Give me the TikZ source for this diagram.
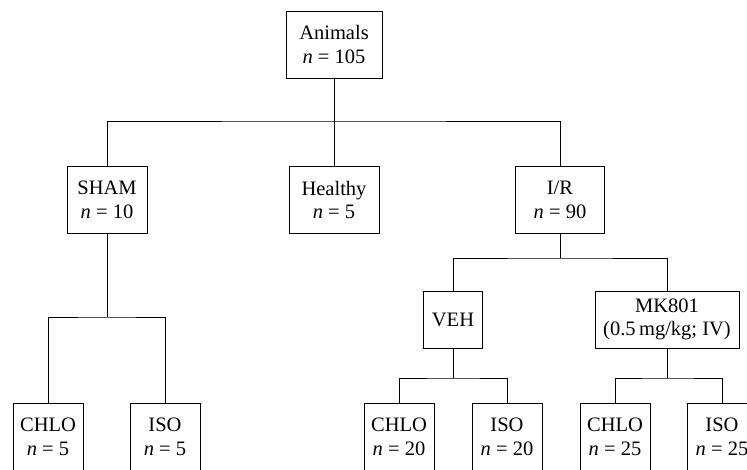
\documentclass[tikz,border=0pt]{standalone}
\usepackage{fontspec}
\setmainfont{Liberation Serif}
\begin{document}
\begin{tikzpicture}[x=1pt,y=-1pt,
  box/.style={draw, line width=1pt, inner sep=0pt, align=center,
              font=\fontsize{20.5}{23.5}\selectfont},
  twoline/.style={box, minimum height=67pt},
  midrow/.style={box, minimum height=57pt},
  leaf/.style={box, minimum width=70pt, minimum height=68pt},
  conn/.style={line width=1pt}]
\useasboundingbox (0,0) rectangle (747,469);
% level 0
\node[twoline, minimum width=96pt] (animals) at (334,44.5) {Animals\\\textit{n} = 105};
% level 1
\node[twoline, minimum width=80pt] (sham) at (107,200) {SHAM\\\textit{n} = 10};
\node[twoline, minimum width=90pt] (healthy) at (334,200) {Healthy\\\textit{n} = 5};
\node[twoline, minimum width=89pt] (ir) at (560,200) {I/R\\\textit{n} = 90};
% level 2
\node[midrow, minimum width=59pt] (veh) at (453,319.5) {VEH};
\node[midrow, minimum width=144pt] (mk) at (667,319.5) {MK801\\(0.5\,mg/kg; IV)};
% leaves
\node[leaf] (chloA) at (48,437) {CHLO\\\textit{n} = 5};
\node[leaf] (isoA) at (165,437) {ISO\\\textit{n} = 5};
\node[leaf] (chloB) at (399,437) {CHLO\\\textit{n} = 20};
\node[leaf] (isoB) at (507,437) {ISO\\\textit{n} = 20};
\node[leaf] (chloC) at (615,437) {CHLO\\\textit{n} = 25};
\node[leaf] (isoC) at (722,437) {ISO\\\textit{n} = 25};
% junctions
\coordinate (j1) at (334,121);
\coordinate (j2) at (107,317);
\coordinate (j3) at (560,258);
\coordinate (j4) at (453,378);
\coordinate (j5) at (667,378);
% connectors
\draw[conn] (animals.south) -- (healthy.north);
\draw[conn] (sham.north) |- (j1) -| (ir.north);
\draw[conn] (sham.south) -- (j2);
\draw[conn] (chloA.north) |- (j2) -| (isoA.north);
\draw[conn] (ir.south) -- (j3);
\draw[conn] (veh.north) |- (j3) -| (mk.north);
\draw[conn] (veh.south) -- (j4);
\draw[conn] (chloB.north) |- (j4) -| (isoB.north);
\draw[conn] (mk.south) -- (j5);
\draw[conn] (chloC.north) |- (j5) -| (isoC.north);
\end{tikzpicture}
\end{document}
